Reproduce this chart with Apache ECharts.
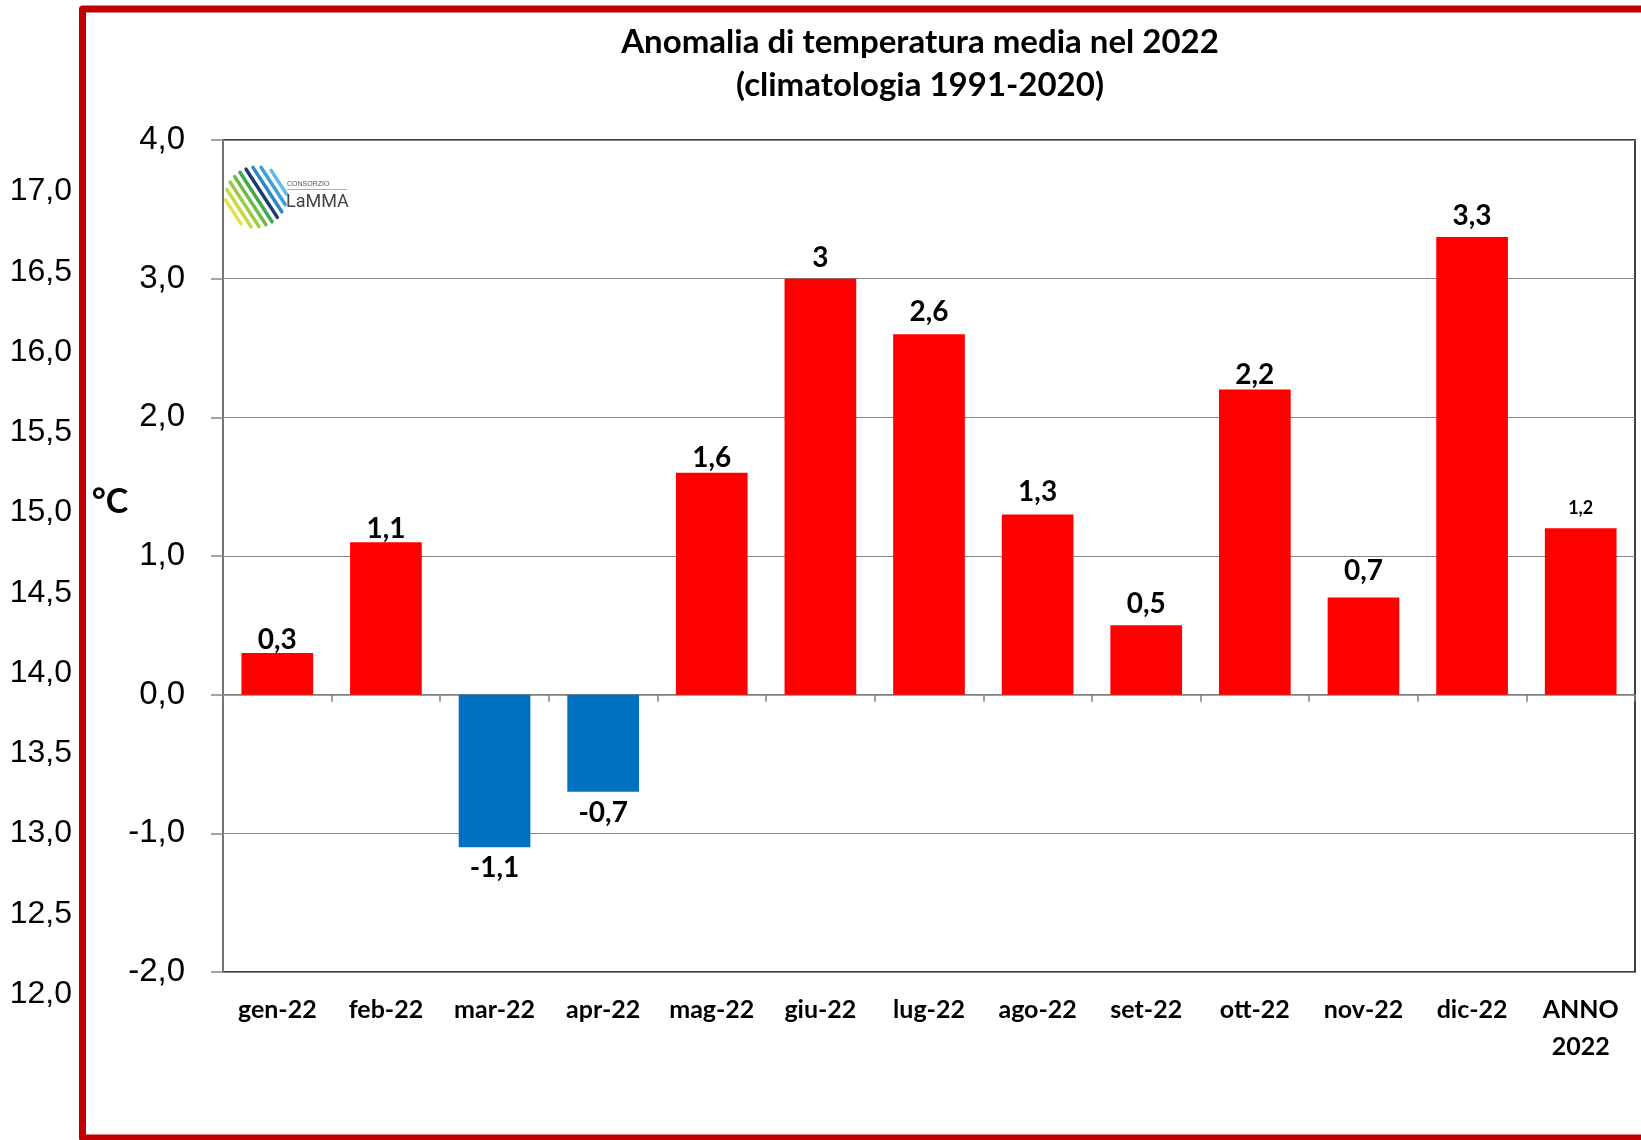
<!DOCTYPE html>
<html>
<head>
<meta charset="utf-8">
<title>Anomalia di temperatura media nel 2022</title>
<script src="https://cdn.jsdelivr.net/npm/echarts@6.0.0/dist/echarts.min.js"></script>
<style>
  html, body { margin: 0; padding: 0; background: #fff; }
  #chart { width: 1641px; height: 1140px; }
</style>
</head>
<body>
<div id="chart"></div>
<script>
// data
const categories = ['gen-22', 'feb-22', 'mar-22', 'apr-22', 'mag-22', 'giu-22', 'lug-22',
                    'ago-22', 'set-22', 'ott-22', 'nov-22', 'dic-22', 'ANNO\n2022'];
const anomalies = [0.3, 1.1, -1.1, -0.7, 1.6, 3.0, 2.6, 1.3, 0.5, 2.2, 0.7, 3.3, 1.2];
const labelTexts = ['0,3', '1,1', '-1,1', '-0,7', '1,6', '3', '2,6', '1,3', '0,5', '2,2', '0,7', '3,3', '1,2'];

// left axis (anomaly) and outer axis (absolute temperature)
const anomalyRange = [-2, 4];
const tempRange = [12, 17];

// how far each value label sits from its bar (styling only)
const labelGap = [-1, -1, 7, 7, 1, 7, 8, 8, 7, 1, 13, 7, 11];

const calibri = "Lato, 'Open Sans', sans-serif";
const arial = "'Liberation Sans', Arial, sans-serif";
const comma = v => v.toFixed(1).replace('.', ',');

// LaMMA logo stripes
const logoStripes = ['#e2e34c', '#c6da40', '#9ccb3f', '#6bbb46', '#3fa94c', '#1c3a78', '#2a87c9', '#3ea0da', '#62bbea'];
const logo = [];
(function () {
  const cx = 256, cy = 197, R = 31, step = 6.8;
  const a = 57 * Math.PI / 180;
  const d = [Math.cos(a), Math.sin(a)];
  const n = [Math.sin(a), -Math.cos(a)];
  logoStripes.forEach((c, i) => {
    const off = (i - 4) * step;
    const half = Math.sqrt(Math.max(R * R - off * off, 20)) * 0.95;
    const mx = cx + n[0] * off, my = cy + n[1] * off;
    logo.push({
      type: 'line',
      shape: { x1: mx - d[0] * half, y1: my - d[1] * half, x2: mx + d[0] * half, y2: my + d[1] * half },
      style: { stroke: c, lineWidth: 3.5, lineCap: 'round' },
      z: 10
    });
  });
  logo.push({ type: 'text', x: 287, y: 184, z: 10,
    style: { text: 'CONSORZIO', font: '7px ' + arial, fill: '#555', align: 'left', verticalAlign: 'middle' } });
  logo.push({ type: 'line', z: 10, shape: { x1: 287, y1: 189.5, x2: 347, y2: 189.5 },
    style: { stroke: '#b0b0b0', lineWidth: 1 } });
  logo.push({ type: 'text', x: 286, y: 202, z: 10,
    style: { text: 'LaMMA', font: '18px Roboto, ' + arial, fill: '#444', align: 'left', verticalAlign: 'middle' } });
})();

const chart = echarts.init(document.getElementById('chart'));

const option = {
  backgroundColor: '#fff',
  animation: false,
  grid: [
    { left: 223, right: 6, top: 140, bottom: 168, show: true, borderColor: '#000', borderWidth: 1.5 },
    { left: 80, width: 10, top: 191.5, bottom: 146 }
  ],
  xAxis: [
    {
      type: 'category', gridIndex: 0, position: 'bottom', data: categories,
      axisLine: { show: false, onZero: false },
      axisTick: { show: false },
      axisLabel: {
        interval: 0, margin: 19, color: '#000', fontFamily: calibri, fontWeight: 'bold',
        fontSize: 25, lineHeight: 37
      },
      splitLine: { show: false }
    },
    {
      // the zero line with its small ticks
      type: 'category', gridIndex: 0, position: 'top', data: categories,
      axisLine: { onZero: true, onZeroAxisIndex: 0, lineStyle: { color: '#7f7f7f', width: 1.5 } },
      axisTick: { show: true, inside: true, length: 7, lineStyle: { color: '#7f7f7f', width: 1.5 } },
      axisLabel: { show: false },
      splitLine: { show: false }
    },
    { type: 'value', gridIndex: 1, show: false }
  ],
  yAxis: [
    {
      type: 'value', gridIndex: 0, min: anomalyRange[0], max: anomalyRange[1], interval: 1,
      axisLine: { show: true, lineStyle: { color: '#868686', width: 1.5 } },
      axisTick: { show: true, length: 12, lineStyle: { color: '#868686', width: 1.5 } },
      axisLabel: { margin: 38, color: '#000', fontFamily: arial, fontSize: 33, formatter: comma },
      splitLine: { show: true, lineStyle: { color: '#868686', width: 1.2 } }
    },
    {
      type: 'value', gridIndex: 1, min: tempRange[0], max: tempRange[1], interval: 0.5,
      axisLine: { show: false },
      axisTick: { show: false },
      axisLabel: { margin: 8, color: '#000', fontFamily: arial, fontSize: 32, formatter: comma },
      splitLine: { show: false }
    }
  ],
  series: [{
    type: 'bar',
    xAxisIndex: 0,
    yAxisIndex: 0,
    barCategoryGap: '34%',
    label: { show: true, color: '#000', fontFamily: calibri, fontWeight: 'bold' },
    data: anomalies.map((v, i) => ({
      value: v,
      itemStyle: { color: v < 0 ? '#0070C0' : '#FF0000' },
      label: {
        position: v < 0 ? 'bottom' : 'top',
        distance: labelGap[i],
        fontSize: i === anomalies.length - 1 ? 18 : 28,
        formatter: labelTexts[i]
      }
    }))
  }],
  graphic: [
    {
      type: 'polyline', z: 20,
      shape: { points: [[1700, 9], [82.5, 9], [82.5, 1138], [1700, 1138]] },
      style: { stroke: '#C00000', lineWidth: 7, fill: null, lineJoin: 'round' }
    },
    { type: 'text', x: 920, y: 42, z: 20,
      style: { text: 'Anomalia di temperatura media nel 2022', font: 'bold 33px ' + calibri, fill: '#000',
               align: 'center', verticalAlign: 'middle', textAlign: 'center', textVerticalAlign: 'middle' } },
    { type: 'text', x: 920, y: 85, z: 20,
      style: { text: '(climatologia 1991-2020)', font: 'bold 33px ' + calibri, fill: '#000',
               align: 'center', verticalAlign: 'middle', textAlign: 'center', textVerticalAlign: 'middle' } },
    { type: 'text', x: 110, y: 502, z: 20,
      style: { text: '°C', font: 'bold 34px ' + calibri, fill: '#000',
               align: 'center', verticalAlign: 'middle', textAlign: 'center', textVerticalAlign: 'middle' } }
  ].concat(logo)
};

chart.setOption(option);
</script>
</body>
</html>
